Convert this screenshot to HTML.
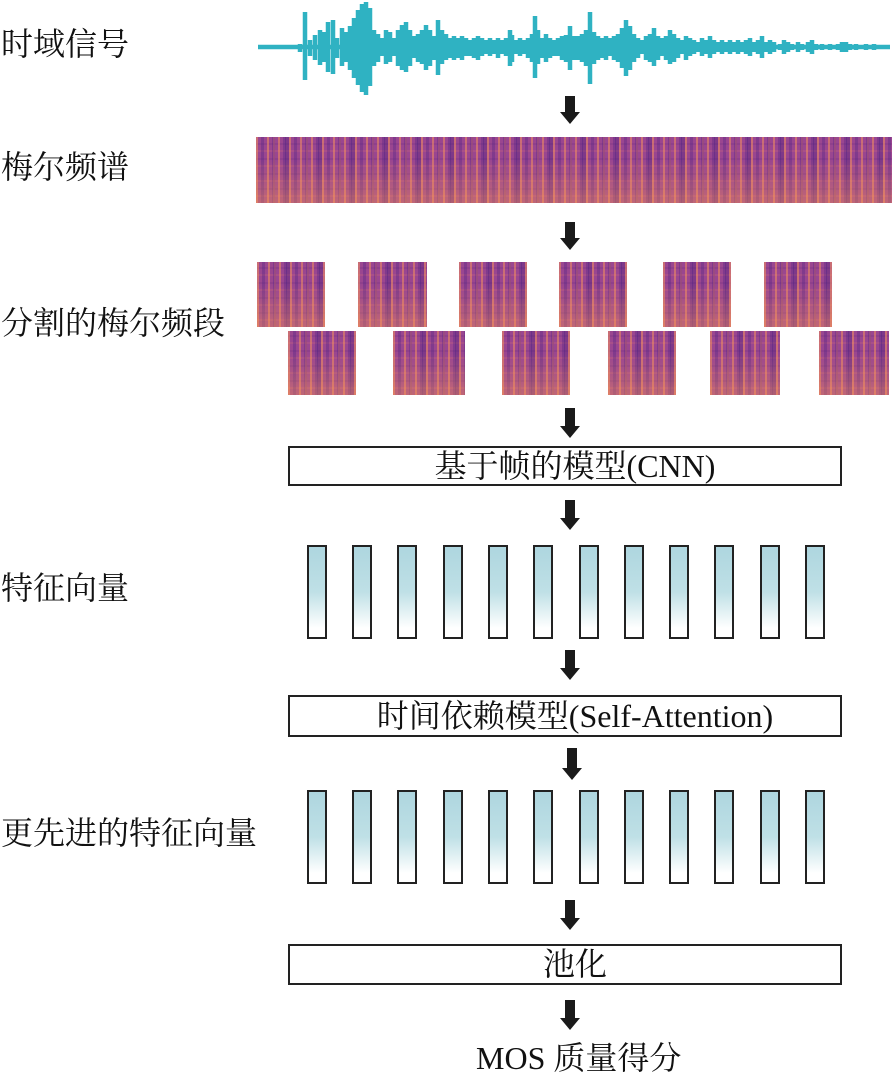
<!DOCTYPE html>
<html><head><meta charset="utf-8"><style>
body{margin:0;width:894px;height:1086px;background:#fff;position:relative;overflow:hidden;font-family:"Liberation Serif","Noto Serif CJK SC",serif;color:#111}
.lab{position:absolute;left:1px;font-size:32px;line-height:36px;white-space:nowrap}
.box{position:absolute;left:288px;width:554px;border:2px solid #222;box-sizing:border-box;font-size:32px;text-align:center;white-space:nowrap;padding-left:20px}
.spec{position:absolute;background-color:#9a4690;
background-image:
linear-gradient(0deg,rgba(250,150,80,.4),rgba(250,150,80,0) 65%),
repeating-linear-gradient(90deg,rgba(250,150,90,.5) 0 2px,transparent 2px 5px,rgba(70,30,130,.3) 5px 8px,transparent 8px 11px),
repeating-linear-gradient(90deg,transparent 0 17px,rgba(245,130,100,.4) 17px 19px,transparent 19px 29px,rgba(60,25,120,.3) 29px 33px),
repeating-linear-gradient(0deg,transparent 0 6px,rgba(230,120,110,.18) 6px 8px,transparent 8px 13px,rgba(80,30,120,.15) 13px 15px);}
.bar{position:absolute;width:20px;height:94px;border:2px solid #222;box-sizing:border-box;background:linear-gradient(#aed6df 0%,#bfe0e6 50%,#fff 90%)}
</style></head><body>
<div class="lab" style="top:26px">时域信号</div>
<div class="lab" style="top:149px">梅尔频谱</div>
<div class="lab" style="top:305px">分割的梅尔频段</div>
<div class="lab" style="top:570px">特征向量</div>
<div class="lab" style="top:815px">更先进的特征向量</div>

<svg style="position:absolute;left:0;top:0" width="894" height="1086">
<path stroke="#2fb2c2" stroke-width="4.5" fill="none" d="
M258 47H890
M300 44V52 M305 12V80 M310 40V56 M315 35V60 M320 30V65 M324 32V62 M328 22V72 M333 20V74 M337 38V58 M342 28V66 M346 32V62 M350 26V70 M354 18V78 M358 10V85 M362 4V92 M366 2V95 M370 8V86 M374 30V66 M378 34V62 M382 38V56 M386 30V64 M390 32V62 M394 38V56 M398 30V66 M402 25V70 M406 22V72 M410 30V66 M414 36V58 M418 34V62 M422 30V64 M426 25V70 M430 30V66 M434 36V60 M438 20V75 M442 30V64 M446 34V60 M450 38V58 M454 36V60 M458 38V58 M462 36V60 M466 38V56 M470 40V56 M474 38V58 M478 36V60 M482 38V56 M486 40V54 M490 38V56 M494 40V54 M498 38V58 M502 40V54 M506 38V56 M510 30V66 M512 35V62 M516 40V54 M520 38V56 M524 40V54 M528 38V58 M532 34V62 M535 16V78 M538 30V64 M542 38V58 M546 34V62 M550 38V58 M554 40V56 M558 38V56 M562 36V60 M566 35V62 M570 26V70 M574 36V60 M578 36V60 M582 34V62 M586 30V66 M590 12V84 M594 32V64 M598 36V60 M602 38V58 M606 36V60 M610 38V56 M614 36V60 M618 34V62 M622 28V68 M626 20V76 M630 26V70 M634 34V62 M638 38V58 M642 40V54 M646 36V60 M650 34V62 M654 28V66 M658 36V60 M662 38V56 M666 36V60 M670 30V64 M674 34V62 M678 38V58 M682 40V54 M686 36V60 M690 38V56 M694 40V54 M698 42V52 M702 38V56 M706 40V54 M710 36V58 M714 40V54 M718 42V52 M722 40V54 M726 42V52 M730 40V54 M734 42V52 M738 40V54 M742 42V52 M746 40V54 M750 38V56 M754 42V52 M758 40V54 M762 36V58 M766 42V52 M770 40V54 M774 42V52 M780 44V50 M784 40V54 M788 42V52 M792 44V50 M798 42V52 M802 44V50 M808 42V52 M812 40V54 M816 44V50 M822 44V50 M830 44V50 M838 44V50 M842 42V52 M846 42V52 M850 44V50 M856 44V50 M866 44V50 M874 44V50"/>
<g fill="#1a1a1a">
<path d="M565 96h10v16h5l-10 12l-10-12h5z"/>
<path d="M565 222h10v16h5l-10 12l-10-12h5z"/>
<path d="M565 408h10v18h5l-10 12l-10-12h5z"/>
<path d="M565 500h10v18h5l-10 12l-10-12h5z"/>
<path d="M565 650h10v18h5l-10 12l-10-12h5z"/>
<path d="M567 748h10v20h5l-10 12l-10-12h5z"/>
<path d="M565 900h10v18h5l-10 12l-10-12h5z"/>
<path d="M565 1000h10v18h5l-10 12l-10-12h5z"/>
</g>
</svg>

<div class="spec" style="left:256px;top:137px;width:636px;height:66px"></div>
<div class="spec" style="left:257px;top:262px;width:68px;height:65px"></div>
<div class="spec" style="left:358px;top:262px;width:69px;height:65px"></div>
<div class="spec" style="left:459px;top:262px;width:68px;height:65px"></div>
<div class="spec" style="left:559px;top:262px;width:68px;height:65px"></div>
<div class="spec" style="left:663px;top:262px;width:68px;height:65px"></div>
<div class="spec" style="left:764px;top:262px;width:68px;height:65px"></div>
<div class="spec" style="left:288px;top:331px;width:68px;height:64px"></div>
<div class="spec" style="left:393px;top:331px;width:72px;height:64px"></div>
<div class="spec" style="left:502px;top:331px;width:68px;height:64px"></div>
<div class="spec" style="left:608px;top:331px;width:68px;height:64px"></div>
<div class="spec" style="left:710px;top:331px;width:70px;height:64px"></div>
<div class="spec" style="left:819px;top:331px;width:70px;height:64px"></div>

<div class="box" style="top:446px;height:40px;line-height:36px">基于帧的模型(CNN)</div>
<div class="box" style="top:695px;height:42px;line-height:38px">时间依赖模型(Self-Attention)</div>
<div class="box" style="top:944px;height:41px;line-height:37px">池化</div>

<div class="bar" style="left:307px;top:545px"></div>
<div class="bar" style="left:352px;top:545px"></div>
<div class="bar" style="left:397px;top:545px"></div>
<div class="bar" style="left:443px;top:545px"></div>
<div class="bar" style="left:488px;top:545px"></div>
<div class="bar" style="left:533px;top:545px"></div>
<div class="bar" style="left:579px;top:545px"></div>
<div class="bar" style="left:624px;top:545px"></div>
<div class="bar" style="left:669px;top:545px"></div>
<div class="bar" style="left:714px;top:545px"></div>
<div class="bar" style="left:760px;top:545px"></div>
<div class="bar" style="left:805px;top:545px"></div>

<div class="bar" style="left:307px;top:790px"></div>
<div class="bar" style="left:352px;top:790px"></div>
<div class="bar" style="left:397px;top:790px"></div>
<div class="bar" style="left:443px;top:790px"></div>
<div class="bar" style="left:488px;top:790px"></div>
<div class="bar" style="left:533px;top:790px"></div>
<div class="bar" style="left:579px;top:790px"></div>
<div class="bar" style="left:624px;top:790px"></div>
<div class="bar" style="left:669px;top:790px"></div>
<div class="bar" style="left:714px;top:790px"></div>
<div class="bar" style="left:760px;top:790px"></div>
<div class="bar" style="left:805px;top:790px"></div>

<div style="position:absolute;left:476px;top:1040px;font-size:32px;line-height:36px;white-space:nowrap">MOS 质量得分</div>
</body></html>
